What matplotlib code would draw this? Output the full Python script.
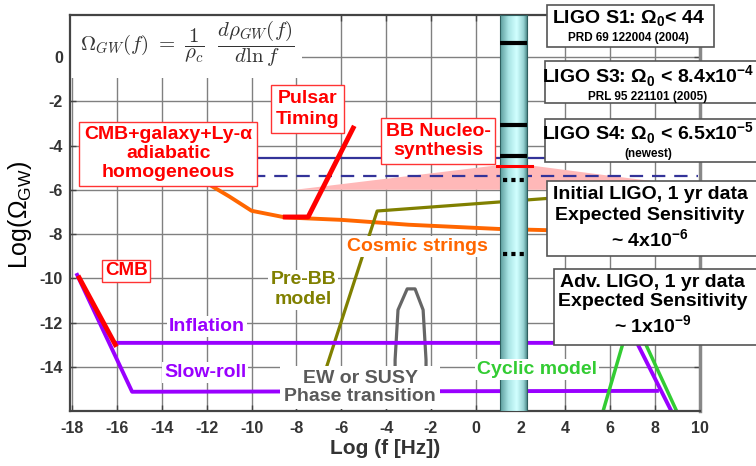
import numpy as np
import matplotlib.pyplot as plt
from matplotlib.patches import Rectangle, Polygon
from matplotlib.colors import LinearSegmentedColormap

plt.rcParams['font.family'] = ['Liberation Sans', 'DejaVu Sans']
plt.rcParams['font.weight'] = 'bold'
plt.rcParams['axes.unicode_minus'] = False

# all curves: x = log10(f [Hz]), y = log10(Omega_GW)
cmb_x = [-17.69, -16.08]
cmb_y = [-9.98, -13.0]

pulsar_x = [-8.5, -7.48, -5.47]
pulsar_y = [-7.23, -7.23, -3.21]

strings_x = [-12.5, -11.0, -10.0, -9.0, -8.5, -6.0, -3.0, 1.0, 8.0]
strings_y = [-5.4, -6.3, -6.95, -7.15, -7.25, -7.36, -7.58, -7.77, -7.95]

prebb_x = [-6.75, -4.4, 1.08, 8.0]
prebb_y = [-14.3, -6.96, -6.55, -6.03]

ew_x = [-3.6, -3.6, -3.47, -3.06, -2.71, -2.35, -2.22, -2.22]
ew_y = [-14.3, -13.69, -11.43, -10.48, -10.48, -11.43, -13.69, -14.3]

slowroll_x = [-17.78, -15.33, 8.08]
slowroll_y = [-9.85, -15.13, -15.09]

inflation_x = [-16.08, 7.19, 8.72]
inflation_y = [-12.92, -12.92, -16.0]

cyclic_x = [5.67, 6.95, 8.97]
cyclic_y = [-16.03, -11.6, -16.03]

bbn_x = [-8.06, 1.08, 2.29, 5.99, 9.0, 9.0]
bbn_y = [-6.0, -4.88, -4.88, -5.37, -5.75, -6.0]

bbn_bound = -4.56       # solid blue
ligo_init_level = -5.37  # dashed blue

# LIGO band and the limits drawn in it
band_x = [1.08, 2.29]
ligo_limits = [0.63, -3.07, -4.47]      # S1, S3, S4
bbn_bar = -4.92
ligo_expected = [-5.56, -8.9]           # initial, advanced

xticks = list(range(-18, 11, 2))
yticks = list(range(-14, 1, 2))

fig = plt.figure(figsize=(7.56, 4.66), dpi=100)
ax = fig.add_axes([70 / 756, 55 / 466, 630 / 756, 396 / 466])
ax.set_xlim(-18.1, 10)
ax.set_ylim(-16, 1.9)
ax.set_xticks(xticks)
ax.set_xticklabels([str(t) for t in xticks], fontweight='bold', fontsize=11.5, color='#333333')
ax.set_yticks(yticks)
ax.set_yticklabels([str(t) for t in yticks], fontweight='bold', fontsize=11.5, color='#333333')
ax.grid(True, color='#808080', lw=1)
ax.set_axisbelow(True)
ax.tick_params(direction='in', length=4, width=1, color='#444444', top=True, right=True)
ax.tick_params(axis='x', pad=7)
ax.tick_params(axis='y', pad=5)
for s in ['left', 'bottom', 'top']:
    ax.spines[s].set_color('#444444')
    ax.spines[s].set_linewidth(1.6)
ax.spines['right'].set_color('#888888')
ax.spines['right'].set_linewidth(2.5)

# white patch behind the formula
ax.add_patch(Rectangle((-18.1, -0.95), 10.35, 2.85, facecolor='white',
                       edgecolor='none', zorder=1.2))
ax.text(-17.65, 0.6,
        r'$\Omega_{GW}(f)\ =\ \dfrac{1}{\rho_c}\ \ \dfrac{d\rho_{GW}(f)}{d\ln f}$',
        math_fontfamily='cm', fontsize=15, color='#333333', ha='left', va='center',
        zorder=1.3)

ax.add_patch(Polygon(list(zip(bbn_x, bbn_y)), closed=True, facecolor='#ffb8b8',
                     edgecolor='none', zorder=1.5))

ax.plot([-10, 10], [bbn_bound, bbn_bound], color='#333399', lw=1.6, zorder=2)
ax.plot([-10, 9.9], [ligo_init_level, ligo_init_level], color='#333399', lw=1.6,
        dashes=(6, 4), zorder=2)

ax.plot(strings_x, strings_y, color='#ff6600', lw=2.8, zorder=2.1)
ax.plot(prebb_x, prebb_y, color='#808000', lw=2.3, zorder=2.1)
ax.plot(ew_x, ew_y, color='#666666', lw=2.3, zorder=2.1)
ax.plot(slowroll_x, slowroll_y, color='#9900ff', lw=2.8, zorder=2.1)
ax.plot(inflation_x, inflation_y, color='#9900ff', lw=2.8, zorder=2.1)
ax.plot(cyclic_x, cyclic_y, color='#33cc33', lw=2.5, zorder=2.2)
ax.plot(cmb_x, cmb_y, color='#ff0000', lw=3.5, zorder=2.3)
ax.plot(pulsar_x, pulsar_y, color='#ff0000', lw=3.5, zorder=2.3)

# LIGO frequency band
band_cmap = LinearSegmentedColormap.from_list(
    'band', [(0, '#5c9c9c'), (0.3, '#a9e4e4'), (0.6, '#d2ffff'), (0.85, '#98d4d4'), (1, '#3f7a7a')])
ax.imshow(np.linspace(0, 1, 64).reshape(1, -1), cmap=band_cmap, aspect='auto',
          extent=[band_x[0], band_x[1], -16, 1.9], zorder=3, interpolation='bilinear')
ax.add_patch(Rectangle((band_x[0], -16), band_x[1] - band_x[0], 17.9, facecolor='none',
                       edgecolor='#2f5f5f', lw=0.8, zorder=3.1))
for lv in ligo_limits:
    ax.plot(band_x, [lv, lv], color='black', lw=3, solid_capstyle='butt', zorder=3.5)
ax.plot([0.95, 2.51], [bbn_bar, bbn_bar], color='#ff0000', lw=2.2, zorder=3.5)
for lv in ligo_expected:
    ax.plot([1.2, 2.29], [lv, lv], color='black', lw=3, dashes=(1, 1),
            solid_capstyle='butt', zorder=3.5)
ax.set_xlim(-18.1, 10)
ax.set_ylim(-16, 1.9)

# red framed labels
red_box = dict(boxstyle='square,pad=0.25', facecolor='white', edgecolor='#ff3333', lw=1)
ax.text(-7.52, -2.35, 'Pulsar\nTiming', color='#ff0000', fontsize=14, ha='center',
        va='center', linespacing=1.3, bbox=red_box, zorder=5)
ax.text(-13.72, -4.38, 'CMB+galaxy+Ly-α\nadiabatic\nhomogeneous', color='#ff0000',
        fontsize=14, ha='center', va='center', linespacing=1.15, bbox=red_box, zorder=5)
ax.text(-1.68, -3.79, 'BB Nucleo-\nsynthesis', color='#ff0000', fontsize=14, ha='center',
        va='center', linespacing=1.15, bbox=red_box, zorder=5)
ax.text(-15.59, -9.67, 'CMB', color='#ff0000', fontsize=13.5, ha='center', va='center',
        bbox=dict(boxstyle='square,pad=0.15', facecolor='white', edgecolor='#ff3333', lw=1),
        zorder=5)

# plain labels on white
white_box = dict(boxstyle='square,pad=0.1', facecolor='white', edgecolor='none')
ax.text(-2.62, -8.58, 'Cosmic strings', color='#ff6600', fontsize=14, ha='center',
        va='center', bbox=white_box, zorder=5)
ax.text(-7.7, -10.52, 'Pre-BB\nmodel', color='#808000', fontsize=14, ha='center',
        va='center', linespacing=1.2, bbox=white_box, zorder=5)
ax.text(-11.98, -12.2, 'Inflation', color='#9900ff', fontsize=14, ha='center',
        va='center', bbox=white_box, zorder=5)
ax.text(-12.07, -14.27, 'Slow-roll', color='#9900ff', fontsize=14, ha='center',
        va='center', bbox=white_box, zorder=5)
ax.text(-5.16, -14.95, 'EW or SUSY\nPhase transition', color='#5a5a5a', fontsize=14,
        ha='center', va='center', linespacing=1.1,
        bbox=dict(boxstyle='square,pad=0.2', facecolor='white', edgecolor='none'), zorder=5)
ax.text(2.73, -14.14, 'Cyclic model', color='#33cc33', fontsize=14, ha='center',
        va='center', bbox=white_box, zorder=5)

# LIGO result boxes on the right
def ligo_box(x0, x1, y0, y1):
    ax.add_patch(Rectangle((x0, y0), x1 - x0, y1 - y0, facecolor='white',
                           edgecolor='#555555', lw=1.2, clip_on=False, zorder=6))

ligo_box(3.18, 10.62, 0.45, 2.36)
ax.text(6.81, 1.72, r'LIGO S1: Ω$_\mathregular{0}$< 44', fontsize=14, ha='center',
        va='center', clip_on=False, zorder=7)
ax.text(6.81, 0.86, 'PRD 69 122004 (2004)', fontsize=8.5, ha='center', va='center',
        clip_on=False, zorder=7)

ligo_box(3.09, 13, -2.09, -0.18)
ax.text(7.68, -0.86, r'LIGO S3: Ω$_\mathregular{0}$ < 8.4x10$^\mathregular{-4}$',
        fontsize=14, ha='center', va='center', clip_on=False, zorder=7)
ax.text(7.68, -1.81, 'PRL 95 221101 (2005)', fontsize=8.5, ha='center', va='center',
        clip_on=False, zorder=7)

ligo_box(3.09, 13, -4.73, -2.82)
ax.text(7.68, -3.43, r'LIGO S4: Ω$_\mathregular{0}$ < 6.5x10$^\mathregular{-5}$',
        fontsize=14, ha='center', va='center', clip_on=False, zorder=7)
ax.text(7.68, -4.38, '(newest)', fontsize=8.5, ha='center', va='center',
        clip_on=False, zorder=7)

ligo_box(3.18, 13, -9.0, -5.59)
ax.text(7.77, -7.3, 'Initial LIGO, 1 yr data\nExpected Sensitivity\n' +
        r'~ 4x10$^\mathregular{-6}$', fontsize=14, ha='center', va='center',
        linespacing=1.25, clip_on=False, zorder=7)

ligo_box(3.49, 13, -13.0, -9.59)
ax.text(7.9, -11.22, 'Adv. LIGO, 1 yr data\nExpected Sensitivity\n' +
        r'~ 1x10$^\mathregular{-9}$', fontsize=14, ha='center', va='center',
        linespacing=1.2, clip_on=False, zorder=7)

ax.set_xlabel('Log (f [Hz])', fontsize=15, fontweight='bold', color='#333333', labelpad=2)
fig.text(20 / 756, 1 - 215 / 466, r'Log(Ω$_\mathregular{GW}$)', fontsize=18,
         fontweight='normal', rotation=90, ha='center', va='center', color='black')

fig.savefig('out.png', dpi=100)
